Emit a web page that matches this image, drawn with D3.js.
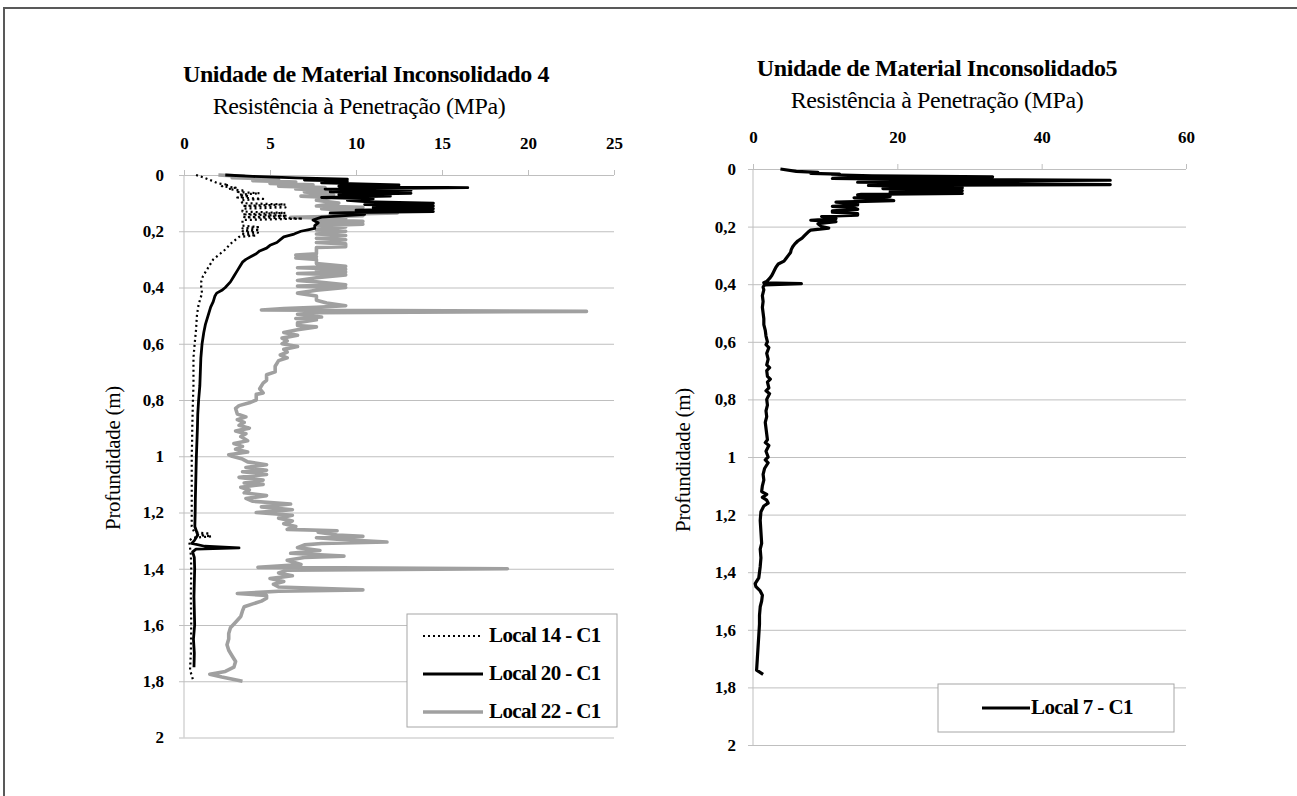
<!DOCTYPE html>
<html><head><meta charset="utf-8">
<script src="https://cdn.jsdelivr.net/npm/d3@7"></script>
<style>body{margin:0;background:#fff;overflow:hidden}svg text{font-family:"Liberation Serif",Tinos,"Times New Roman","DejaVu Serif","Noto Serif",serif !important}</style>
</head><body>
<svg id="c" width="1297" height="796"></svg>
<script>
// ---------- data (depth m, resistance MPa) ----------
const depthTicks = [0,0.2,0.4,0.6,0.8,1,1.2,1.4,1.6,1.8,2];
const leftXTicks = [0,5,10,15,20,25];
const rightXTicks = [0,20,40,60];
const leftTitle = "Unidade de Material Inconsolidado 4";
const rightTitle = "Unidade de Material Inconsolidado5";
const xTitle = "Resistência à Penetração (MPa)";
const yTitle = "Profundidade (m)";
const leftSeriesNames = ["Local 14 - C1","Local 20 - C1","Local 22 - C1"];
const rightSeriesNames = ["Local 7 - C1"];

const local14 = [[0.000,0.7],[0.010,1.2],[0.020,1.6],[0.030,2.0],[0.035,2.6],[0.040,2.2],[0.045,3.0],[0.050,2.6],[0.055,3.4],[0.060,3.0],[0.065,4.4],[0.070,3.2],[0.075,3.8],[0.080,3.1],[0.085,4.6],[0.090,3.3],[0.100,3.4],[0.105,5.9],[0.110,3.4],[0.115,5.9],[0.120,3.4],[0.130,3.4],[0.135,5.9],[0.140,3.4],[0.145,6.0],[0.150,3.5],[0.155,6.9],[0.160,3.4],[0.170,3.4],[0.180,3.4],[0.185,4.3],[0.190,3.4],[0.195,4.4],[0.200,3.4],[0.205,4.3],[0.210,3.3],[0.215,4.2],[0.220,3.2],[0.230,3.0],[0.240,2.8],[0.250,2.6],[0.260,2.5],[0.270,2.3],[0.280,2.1],[0.290,1.9],[0.300,1.7],[0.310,1.6],[0.320,1.5],[0.340,1.3],[0.360,1.1],[0.380,1.0],[0.400,1.0],[0.420,1.05],[0.440,0.95],[0.460,0.85],[0.480,0.8],[0.500,0.75],[0.550,0.7],[0.600,0.62],[0.650,0.55],[0.700,0.55],[0.750,0.55],[0.800,0.52],[0.850,0.5],[0.900,0.48],[0.950,0.47],[1.000,0.45],[1.100,0.45],[1.200,0.45],[1.250,0.45],[1.270,0.6],[1.275,1.5],[1.280,0.8],[1.285,1.6],[1.290,0.5],[1.300,0.3],[1.350,0.4],[1.400,0.42],[1.500,0.4],[1.600,0.42],[1.700,0.4],[1.760,0.35],[1.800,0.55]];

const local20 = [[0.000,2.4],[0.005,4.0],[0.010,6.5],[0.015,9.5],[0.018,7.0],[0.022,9.5],[0.028,8.0],[0.035,12.5],[0.040,9.0],[0.045,16.5],[0.050,8.2],[0.055,13.2],[0.060,8.5],[0.065,13.2],[0.070,9.0],[0.075,12.0],[0.080,8.0],[0.085,11.0],[0.090,9.5],[0.095,10.5],[0.100,14.5],[0.105,10.5],[0.110,14.5],[0.115,11.0],[0.120,14.5],[0.125,10.0],[0.130,14.5],[0.135,8.5],[0.140,10.5],[0.150,8.0],[0.160,7.5],[0.170,7.8],[0.180,7.6],[0.190,7.6],[0.195,7.2],[0.200,6.8],[0.210,6.4],[0.220,5.8],[0.230,5.6],[0.240,5.4],[0.250,5.0],[0.260,4.8],[0.270,4.4],[0.280,4.2],[0.290,3.9],[0.300,3.6],[0.310,3.4],[0.320,3.3],[0.340,3.1],[0.360,2.9],[0.380,2.7],[0.400,2.4],[0.410,2.2],[0.420,1.9],[0.430,1.8],[0.450,1.7],[0.470,1.55],[0.500,1.4],[0.530,1.25],[0.560,1.15],[0.600,1.05],[0.650,0.98],[0.700,0.95],[0.750,0.92],[0.800,0.85],[0.850,0.8],[0.900,0.78],[0.950,0.75],[1.000,0.72],[1.050,0.7],[1.100,0.68],[1.150,0.66],[1.200,0.65],[1.250,0.63],[1.280,0.8],[1.300,0.6],[1.310,0.45],[1.320,1.2],[1.326,3.2],[1.330,0.7],[1.340,0.5],[1.360,0.6],[1.400,0.62],[1.450,0.6],[1.500,0.58],[1.550,0.6],[1.600,0.62],[1.650,0.55],[1.700,0.6],[1.750,0.58]];

const local22 = [[0.000,2.0],[0.005,3.5],[0.010,2.8],[0.015,5.5],[0.020,4.0],[0.025,6.5],[0.030,5.0],[0.035,7.5],[0.040,5.5],[0.045,8.2],[0.050,6.5],[0.055,8.5],[0.060,7.0],[0.070,8.7],[0.075,6.8],[0.080,8.5],[0.090,7.7],[0.100,9.0],[0.110,7.7],[0.115,10.4],[0.120,8.0],[0.130,10.5],[0.135,12.4],[0.140,8.5],[0.145,10.4],[0.150,6.2],[0.155,9.4],[0.160,7.7],[0.165,10.4],[0.170,7.7],[0.175,10.4],[0.180,7.7],[0.185,9.4],[0.195,7.7],[0.200,9.4],[0.210,7.7],[0.215,9.4],[0.225,7.7],[0.230,9.4],[0.240,7.7],[0.245,9.4],[0.255,9.4],[0.258,7.7],[0.280,7.7],[0.285,6.5],[0.290,7.7],[0.295,6.5],[0.300,7.7],[0.315,7.7],[0.325,9.4],[0.330,6.6],[0.335,9.4],[0.340,7.7],[0.345,9.4],[0.350,6.6],[0.355,9.4],[0.365,7.7],[0.375,6.6],[0.380,7.7],[0.390,9.4],[0.395,6.6],[0.400,9.4],[0.410,7.7],[0.420,6.6],[0.430,7.7],[0.445,7.7],[0.455,8.3],[0.465,9.4],[0.470,7.7],[0.475,5.8],[0.480,4.5],[0.485,23.4],[0.490,7.7],[0.495,6.6],[0.505,8.0],[0.510,6.5],[0.515,7.7],[0.525,6.6],[0.535,6.6],[0.540,7.7],[0.550,6.6],[0.560,5.8],[0.570,6.6],[0.580,5.7],[0.590,6.0],[0.600,5.7],[0.610,6.6],[0.620,5.8],[0.630,6.0],[0.640,5.6],[0.650,6.0],[0.660,5.5],[0.680,5.3],[0.700,5.3],[0.710,4.8],[0.730,4.8],[0.740,4.6],[0.760,4.4],[0.775,4.6],[0.780,4.2],[0.800,4.2],[0.810,3.8],[0.820,3.2],[0.830,3.0],[0.850,3.1],[0.860,3.6],[0.870,3.1],[0.880,3.5],[0.890,3.2],[0.900,3.8],[0.910,3.0],[0.920,3.6],[0.930,3.3],[0.945,3.7],[0.955,2.9],[0.965,3.4],[0.975,3.0],[0.985,3.7],[0.995,2.6],[1.000,2.8],[1.010,3.4],[1.020,3.7],[1.030,4.8],[1.040,3.6],[1.050,4.8],[1.055,3.4],[1.065,4.8],[1.075,3.2],[1.085,4.6],[1.095,3.5],[1.100,4.6],[1.110,3.3],[1.120,3.8],[1.130,3.5],[1.140,4.8],[1.150,3.6],[1.160,4.0],[1.170,6.2],[1.180,4.5],[1.190,6.3],[1.200,4.2],[1.210,6.3],[1.220,5.5],[1.230,6.3],[1.240,5.8],[1.250,6.5],[1.260,6.0],[1.265,8.9],[1.270,7.8],[1.280,8.9],[1.285,10.4],[1.290,7.7],[1.295,8.9],[1.305,11.8],[1.310,8.0],[1.315,7.0],[1.325,6.6],[1.335,7.9],[1.345,6.2],[1.355,9.3],[1.360,7.0],[1.370,6.0],[1.385,6.8],[1.395,4.3],[1.400,18.8],[1.405,6.0],[1.415,5.5],[1.425,6.3],[1.435,5.0],[1.445,5.8],[1.455,5.2],[1.465,5.5],[1.475,10.4],[1.480,5.5],[1.488,3.1],[1.495,4.8],[1.505,4.8],[1.515,4.5],[1.525,4.0],[1.535,3.5],[1.550,3.4],[1.570,3.3],[1.590,3.0],[1.610,2.7],[1.630,2.6],[1.650,2.6],[1.670,2.5],[1.690,2.6],[1.710,2.8],[1.730,3.0],[1.750,2.9],[1.765,2.4],[1.775,1.5],[1.785,2.2],[1.800,3.4]];

const local7 = [[0.000,3.8],[0.008,6.0],[0.012,9.0],[0.015,8.0],[0.018,12.0],[0.020,11.0],[0.024,16.5],[0.027,33.2],[0.030,16.5],[0.033,11.0],[0.036,22.0],[0.039,49.5],[0.042,16.5],[0.046,14.5],[0.050,30.0],[0.054,49.5],[0.057,16.0],[0.060,22.0],[0.062,19.0],[0.065,29.0],[0.068,18.0],[0.070,25.0],[0.073,19.0],[0.075,29.0],[0.078,20.0],[0.080,19.0],[0.085,29.0],[0.088,15.0],[0.090,14.5],[0.093,19.0],[0.095,19.0],[0.100,14.0],[0.105,18.0],[0.110,19.5],[0.115,11.5],[0.120,14.5],[0.125,14.5],[0.130,11.0],[0.135,14.0],[0.140,14.5],[0.145,11.0],[0.150,11.0],[0.155,14.5],[0.160,14.5],[0.165,9.5],[0.172,11.5],[0.178,8.0],[0.183,11.5],[0.190,9.0],[0.200,9.5],[0.205,10.5],[0.212,8.0],[0.220,7.6],[0.230,7.2],[0.240,6.8],[0.250,6.2],[0.260,5.8],[0.270,5.5],[0.280,5.3],[0.290,5.2],[0.300,4.9],[0.310,4.6],[0.320,4.3],[0.330,3.5],[0.340,3.2],[0.350,3.0],[0.360,2.8],[0.370,2.6],[0.380,2.3],[0.390,1.9],[0.395,1.5],[0.398,6.7],[0.402,1.6],[0.410,1.4],[0.420,1.5],[0.440,1.3],[0.460,1.4],[0.480,1.3],[0.500,1.4],[0.520,1.5],[0.540,1.5],[0.560,1.7],[0.580,1.8],[0.600,2.0],[0.610,1.8],[0.620,2.2],[0.640,1.9],[0.660,2.1],[0.680,1.9],[0.690,2.3],[0.700,1.9],[0.720,2.0],[0.730,2.4],[0.740,2.0],[0.760,2.2],[0.770,1.8],[0.780,2.3],[0.800,1.9],[0.820,2.0],[0.840,1.8],[0.860,1.9],[0.880,1.7],[0.900,1.8],[0.920,1.9],[0.940,2.0],[0.950,1.7],[0.960,2.2],[0.980,1.8],[1.000,2.1],[1.010,1.7],[1.020,2.1],[1.040,1.6],[1.060,1.4],[1.080,1.5],[1.100,1.3],[1.120,1.2],[1.130,1.9],[1.140,1.3],[1.150,1.9],[1.160,2.1],[1.170,1.5],[1.190,1.1],[1.220,1.0],[1.260,1.1],[1.300,1.2],[1.320,1.0],[1.350,1.1],[1.380,1.0],[1.400,0.9],[1.420,0.8],[1.440,0.3],[1.450,0.4],[1.465,1.0],[1.480,1.3],[1.500,1.2],[1.520,1.0],[1.550,0.9],[1.580,0.9],[1.620,0.8],[1.660,0.7],[1.700,0.6],[1.740,0.5],[1.755,1.4]];

// ---------- drawing ----------
const svg = d3.select("#c");
const GRID = "#bfbfbf";
const FONT = "'Liberation Serif', Tinos, 'Times New Roman', 'DejaVu Serif', serif";
const fmt = d3.formatLocale({decimal:",",thousands:".",grouping:[3],currency:["",""]}).format("~g");

svg.append("rect").attr("x",4).attr("y",8).attr("width",1400).attr("height",900)
  .attr("fill","none").attr("stroke","#595959").attr("stroke-width",2);

function panel(o){
  const x = d3.scaleLinear().domain([o.xTicks[0], o.xTicks[o.xTicks.length-1]]).range([o.x0,o.x1]);
  const y = d3.scaleLinear().domain([0,2]).range([o.y0,o.y1]);
  const g = svg.append("g").attr("font-family",FONT);
  // grid + y labels
  const ya = g.append("g").attr("transform",`translate(${o.x0},0)`)
    .call(d3.axisLeft(y).tickValues(depthTicks).tickSizeInner(-(o.x1-o.x0)).tickSizeOuter(0).tickPadding(o.yPad).tickFormat(fmt));
  ya.attr("font-family",FONT);
  ya.select(".domain").remove();
  ya.selectAll("line").attr("stroke",GRID).attr("stroke-width",1);
  ya.selectAll("text").attr("font-size",17).attr("font-weight","bold").attr("fill","#000");
  // outer left ticks
  const yt = g.append("g").attr("transform",`translate(${o.x0},0)`)
    .call(d3.axisLeft(y).tickValues(depthTicks).tickSize(5).tickFormat(""));
  yt.select(".domain").attr("stroke",GRID).attr("d",`M0,${o.y0}V${o.y1}`);
  yt.selectAll("line").attr("stroke",GRID);
  // top axis
  const xa = g.append("g").attr("transform",`translate(0,${o.y0})`)
    .call(d3.axisTop(x).tickValues(o.xTicks).tickSize(5).tickPadding(21).tickFormat(d3.format("d")));
  xa.attr("font-family",FONT);
  xa.select(".domain").remove();
  xa.selectAll("line").attr("stroke",GRID);
  xa.selectAll("text").attr("font-size",17).attr("font-weight","bold").attr("fill","#000");
  // series
  const line = d3.line().x(d=>x(d[1])).y(d=>y(d[0]));
  o.series.forEach(s=>{
    g.append("path").datum(s.data).attr("d",line).attr("fill","none")
      .attr("stroke",s.color).attr("stroke-width",s.w).attr("stroke-dasharray",s.dash||null)
      .attr("stroke-linejoin","round");
  });
  // titles
  g.append("text").attr("x",o.tx).attr("y",o.ty).attr("text-anchor","middle")
    .attr("font-size",24).attr("font-weight","bold").attr("letter-spacing",-0.4).text(o.title);
  g.append("text").attr("x",o.sx).attr("y",o.ty+32).attr("text-anchor","middle")
    .attr("font-size",24).attr("letter-spacing",-0.4).text(xTitle);
  g.append("text").attr("transform",`translate(${o.yx},${o.yy}) rotate(-90)`).attr("text-anchor","middle")
    .attr("font-size",21).attr("letter-spacing",-0.3).text(yTitle);
  // legend
  const L = o.legend;
  g.append("rect").attr("x",L.x).attr("y",L.y).attr("width",L.w).attr("height",L.h)
    .attr("fill","#fff").attr("stroke","#a6a6a6").attr("stroke-width",1);
  L.items.forEach((it,i)=>{
    const yy = L.rowY[i];
    g.append("line").attr("x1",L.lx0).attr("x2",L.lx1).attr("y1",yy).attr("y2",yy)
      .attr("stroke",it.color).attr("stroke-width",it.w).attr("stroke-dasharray",it.dash||null);
    g.append("text").attr("x",L.tx).attr("y",yy+6).attr("font-size",21).attr("font-weight","bold")
      .attr("letter-spacing",-0.6).text(it.name);
  });
}

const leftSeries = [
  {name:leftSeriesNames[2], data:local22, color:"#a0a0a0", w:3.6},
  {name:leftSeriesNames[1], data:local20, color:"#000", w:2.8},
  {name:leftSeriesNames[0], data:local14, color:"#000", w:2.2, dash:"2,3"}
];
panel({
  xTicks:leftXTicks, x0:184, x1:614, y0:175, y1:737.5, yPad:20,
  series:leftSeries, title:leftTitle, tx:366, sx:359, ty:82, yx:120, yy:458,
  legend:{x:407,y:614,w:210,h:113,lx0:423,lx1:483,tx:489,rowY:[636,674,712],
    items:[leftSeries[2],leftSeries[1],leftSeries[0]]}
});
const rightSeries = [{name:rightSeriesNames[0], data:local7, color:"#000", w:3.2}];
panel({
  xTicks:rightXTicks, x0:753, x1:1186, y0:169, y1:745, yPad:17,
  series:rightSeries, title:rightTitle, tx:937, sx:937, ty:76, yx:690, yy:460,
  legend:{x:938,y:684,w:236,h:48,lx0:982,lx1:1030,tx:1031,rowY:[708],
    items:rightSeries}
});
</script>
</body></html>
